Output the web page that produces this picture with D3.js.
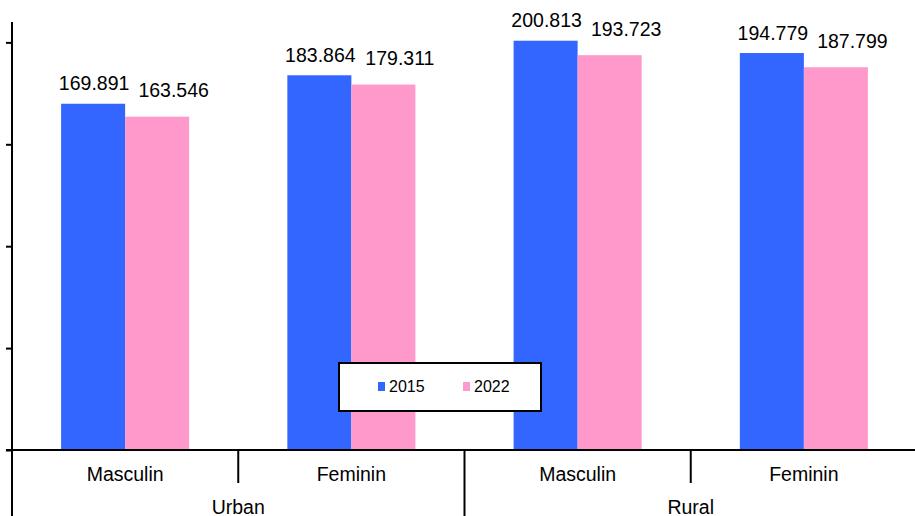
<!DOCTYPE html>
<html><head><meta charset="utf-8">
<script src="https://cdn.jsdelivr.net/npm/d3@7"></script>
<style>body{margin:0;background:#fff}svg{display:block}text{font-family:"Liberation Sans",Arial,sans-serif;fill:#000}</style>
</head><body><svg id="c" width="915" height="516"></svg>
<script>
const groups = ["Urban", "Rural"];
const categories = ["Masculin", "Feminin", "Masculin", "Feminin"];
const series = ["2015", "2022"];
const values2015 = [169.891, 183.864, 200.813, 194.779];
const values2022 = [163.546, 179.311, 193.723, 187.799];
const yTicks = [0, 50, 100, 150, 200];
const colors = ["#3366FF", "#FF99CC"];

const svg = d3.select("#c");
const x0 = 12, x1 = 917, yBase = 450, yTop = 22;
const keys = categories.map((c, i) => i);
const x = d3.scaleBand().domain(keys).range([x0, x1]).padding(0);
const bw = x.bandwidth();
const xs = d3.scaleBand().domain(series).range([bw * 0.217, bw * 0.783]).padding(0);
const y = d3.scaleLinear().domain([0, 210]).range([yBase, yTop]);
const data = [values2015, values2022];
const labelDx = [1, 16.5];
const labelGap = [13.5, 19.5];

const g = svg.append("g");
keys.forEach(i => {
  series.forEach((s, si) => {
    const v = data[si][i];
    g.append("rect").attr("x", x(i) + xs(s)).attr("width", xs.bandwidth())
      .attr("y", y(v)).attr("height", y(0) - y(v)).attr("fill", colors[si]);
  });
});
keys.forEach(i => {
  series.forEach((s, si) => {
    const v = data[si][i];
    g.append("text").attr("x", x(i) + xs(s) + xs.bandwidth() / 2 + labelDx[si]).attr("y", y(v) - labelGap[si])
      .attr("text-anchor", "middle").attr("font-size", 19.5).text(v.toFixed(3));
  });
});

// y axis
const yAxis = d3.axisLeft(y).tickValues(yTicks).tickSize(6).tickFormat("");
const ya = svg.append("g").attr("transform", `translate(${x0},0)`).call(yAxis);
ya.select(".domain").remove();
ya.selectAll(".tick line").attr("stroke", "#000").attr("stroke-width", 2);
svg.append("line").attr("x1", x0).attr("x2", x0).attr("y1", yTop).attr("y2", 516).attr("stroke", "#000").attr("stroke-width", 2);
// baseline
svg.append("line").attr("x1", x0 - 6).attr("x2", 915).attr("y1", yBase).attr("y2", yBase).attr("stroke", "#000").attr("stroke-width", 2);

// category labels and separators
keys.forEach(i => {
  svg.append("text").attr("x", x(i) + bw / 2).attr("y", 481).attr("text-anchor", "middle")
    .attr("font-size", 19.5).text(categories[i]);
});
[1, 3].forEach(i => {
  svg.append("line").attr("x1", x(i)).attr("x2", x(i)).attr("y1", yBase).attr("y2", 483)
    .attr("stroke", "#000").attr("stroke-width", 2);
});
svg.append("line").attr("x1", x(2)).attr("x2", x(2)).attr("y1", yBase).attr("y2", 516)
  .attr("stroke", "#000").attr("stroke-width", 2);
groups.forEach((gname, gi) => {
  const cx = (x(gi * 2) + x(gi * 2 + 1) + bw) / 2;
  svg.append("text").attr("x", cx).attr("y", 514).attr("text-anchor", "middle")
    .attr("font-size", 19.5).text(gname);
});

// legend
const lg = svg.append("g");
lg.append("rect").attr("x", 339).attr("y", 363).attr("width", 202).attr("height", 48)
  .attr("fill", "#fff").attr("stroke", "#000").attr("stroke-width", 2);
const lx = [378, 463];
series.forEach((s, si) => {
  lg.append("rect").attr("x", lx[si]).attr("y", 382).attr("width", 7).attr("height", 9).attr("fill", colors[si]);
  lg.append("text").attr("x", lx[si] + 11).attr("y", 392).attr("font-size", 16).text(s);
});
</script></body></html>
